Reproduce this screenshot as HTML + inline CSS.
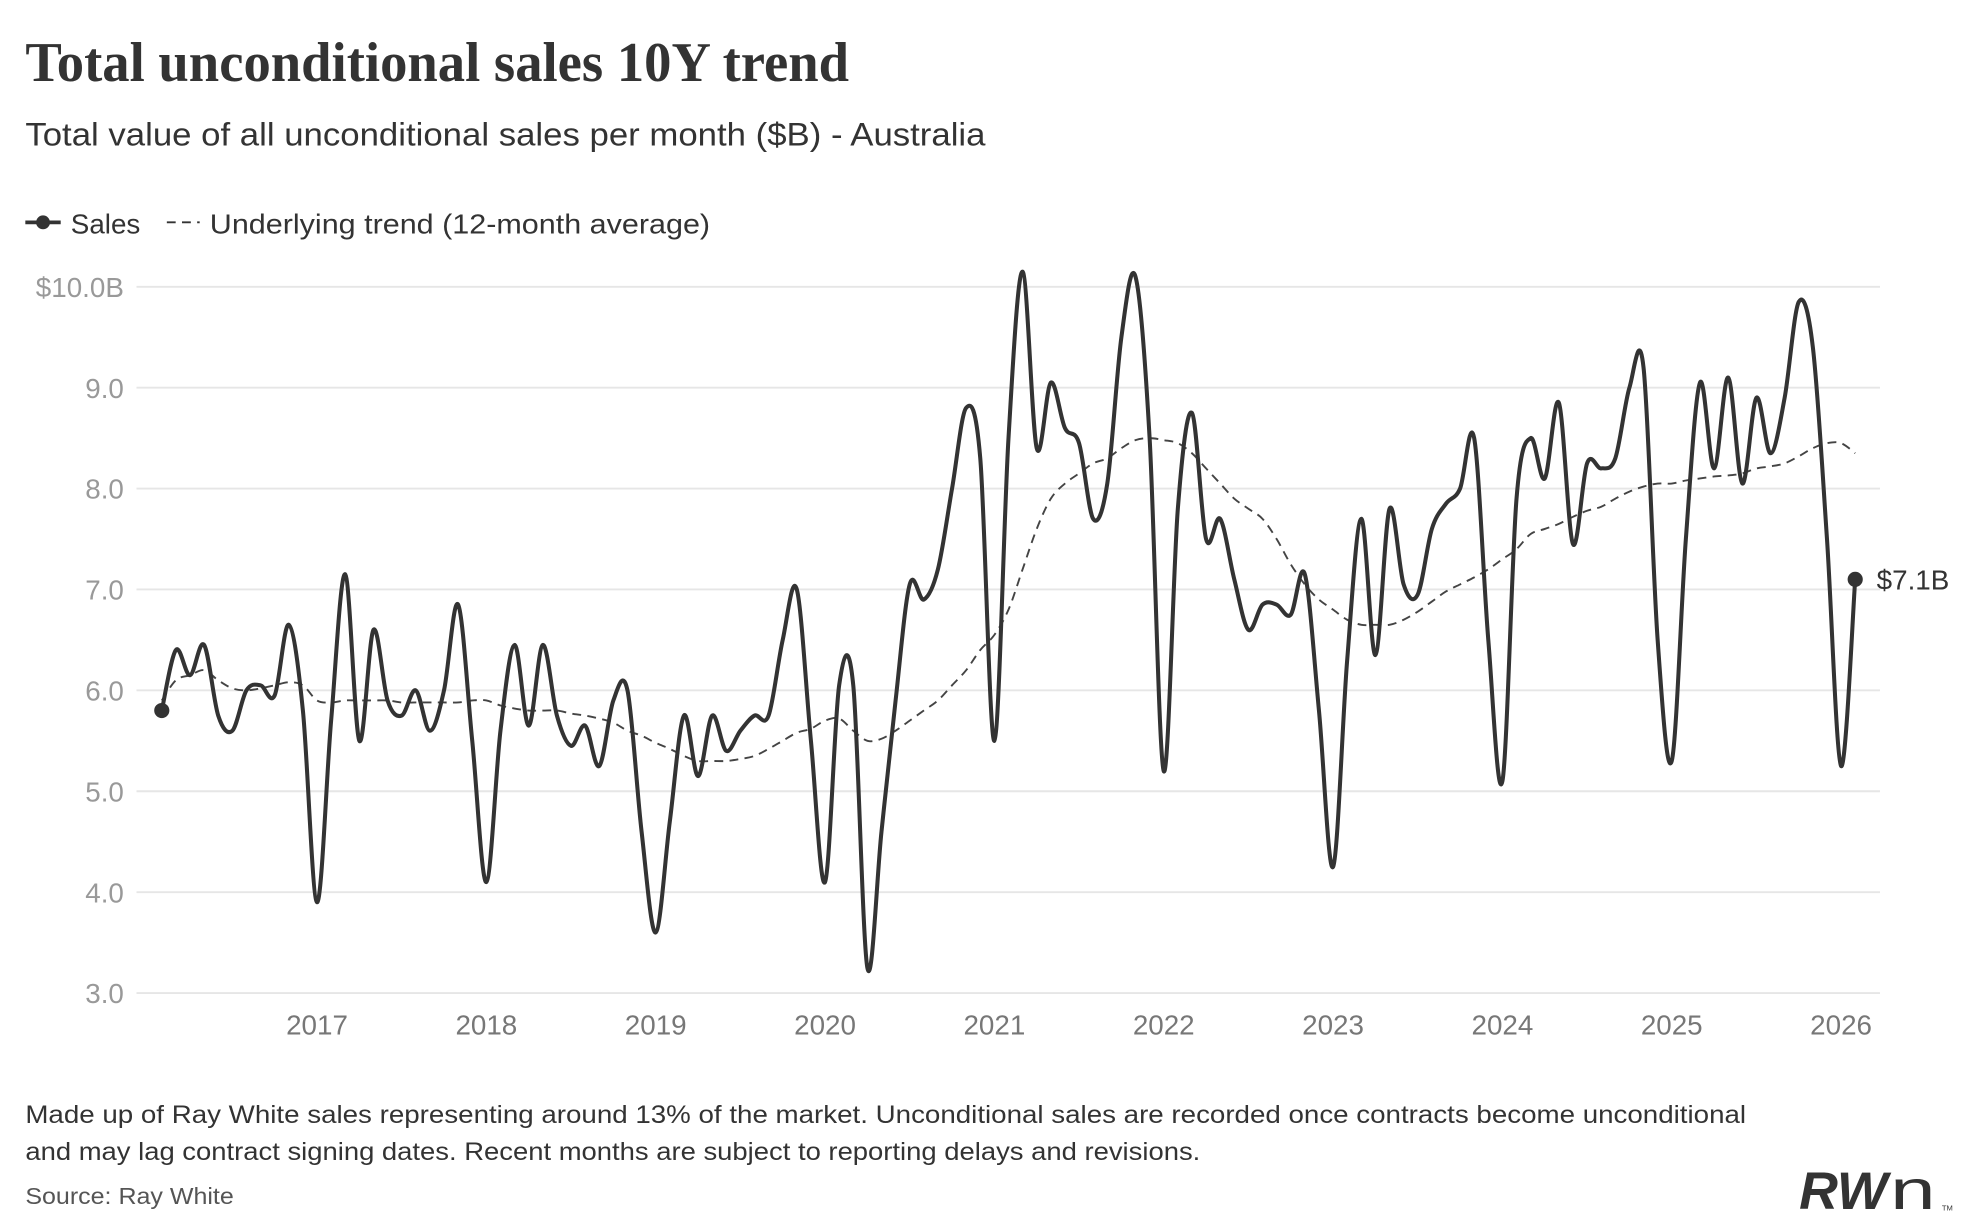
<!DOCTYPE html>
<html><head><meta charset="utf-8"><style>
html,body{margin:0;padding:0;background:#fff;}
svg{display:block;}
text{font-family:"Liberation Sans",sans-serif;}
</style></head><body>
<svg id="chart" width="1971" height="1228" viewBox="0 0 1560 972" xmlns="http://www.w3.org/2000/svg">
<text x="20" y="64" font-family="Liberation Serif, serif" font-weight="bold" font-size="44" fill="#333" textLength="652" lengthAdjust="spacingAndGlyphs" style="font-family:'Liberation Serif',serif">Total unconditional sales 10Y trend</text>
<text x="20" y="115" font-size="26" fill="#333" textLength="760" lengthAdjust="spacingAndGlyphs">Total value of all unconditional sales per month ($B) - Australia</text>
<g>
  <g>
    <line x1="20" y1="176" x2="48" y2="176" stroke="#333" stroke-width="3"/>
    <circle cx="34" cy="176" r="5.5" fill="#333"/>
    <text x="56" y="185" font-size="22" fill="#333">Sales</text>
  </g>
  <g>
    <line x1="132" y1="176" x2="158" y2="176" stroke="#333" stroke-width="1.5" stroke-dasharray="7,5"/>
    <text x="166" y="185" font-size="22" fill="#333" textLength="396" lengthAdjust="spacingAndGlyphs">Underlying trend (12-month average)</text>
  </g>
</g>
<g id="grid"></g>
<g id="yaxis"></g>
<g id="xaxis"></g>
<g id="series"></g>
<text x="20" y="889" font-size="20" fill="#333" textLength="1362" lengthAdjust="spacingAndGlyphs">Made up of Ray White sales representing around 13% of the market. Unconditional sales are recorded once contracts become unconditional</text>
<text x="20" y="918" font-size="20" fill="#333" textLength="930" lengthAdjust="spacingAndGlyphs">and may lag contract signing dates. Recent months are subject to reporting delays and revisions.</text>
<text x="20" y="953" font-size="18" fill="#555" textLength="165" lengthAdjust="spacingAndGlyphs">Source: Ray White</text>
<g>
  <text x="1424" y="957" font-size="42" font-weight="bold" font-style="italic" fill="#333" textLength="70" lengthAdjust="spacingAndGlyphs">RW</text>
  <text x="1496" y="957" font-size="44" fill="#333" textLength="36" lengthAdjust="spacingAndGlyphs">n</text>
  <text x="1537" y="958" font-size="6" fill="#333">TM</text>
</g>
</svg>
<script>
const yTicks = [3,4,5,6,7,8,9,10];
const yTickLabels = ["3.0","4.0","5.0","6.0","7.0","8.0","9.0","$10.0B"];
const xYears = [2017,2018,2019,2020,2021,2022,2023,2024,2025,2026];
const salesValues = [5.8,6.4,6.15,6.45,5.75,5.6,6.0,6.05,5.95,6.65,5.8,3.9,
5.7,7.15,5.5,6.6,5.9,5.75,6.0,5.6,6.0,6.85,5.5,4.1,
5.6,6.45,5.65,6.45,5.75,5.45,5.65,5.25,5.9,6.0,4.6,3.6,
4.7,5.75,5.15,5.75,5.4,5.6,5.75,5.75,6.5,7.0,5.5,4.1,
6.05,6.05,3.25,4.6,5.9,7.05,6.9,7.2,8.0,8.8,8.3,5.5,
8.5,10.15,8.4,9.05,8.6,8.45,7.7,8.05,9.5,10.1,8.5,5.2,
7.8,8.75,7.5,7.7,7.1,6.6,6.85,6.85,6.75,7.15,5.8,4.25,
6.3,7.7,6.35,7.8,7.05,6.95,7.6,7.85,8.0,8.5,6.5,5.1,
7.9,8.5,8.1,8.85,7.45,8.25,8.2,8.3,9.0,9.2,6.5,5.3,
7.5,9.05,8.2,9.1,8.05,8.9,8.35,8.9,9.85,9.4,7.5,5.25,
7.1];
const trendValues = [5.9,6.1,6.15,6.2,6.1,6.02,6.0,6.02,6.05,6.08,6.05,5.9,
5.88,5.9,5.9,5.9,5.9,5.88,5.88,5.88,5.88,5.88,5.9,5.9,
5.85,5.82,5.8,5.8,5.8,5.77,5.75,5.72,5.68,5.6,5.55,5.48,
5.42,5.35,5.3,5.3,5.3,5.32,5.35,5.42,5.5,5.58,5.62,5.7,
5.72,5.6,5.5,5.52,5.6,5.7,5.8,5.9,6.05,6.2,6.4,6.55,
6.8,7.2,7.6,7.9,8.05,8.15,8.25,8.3,8.4,8.48,8.5,8.48,
8.45,8.35,8.2,8.05,7.9,7.8,7.7,7.5,7.25,7.05,6.9,6.8,
6.7,6.65,6.65,6.65,6.7,6.78,6.88,6.98,7.05,7.12,7.2,7.3,
7.4,7.55,7.6,7.65,7.72,7.78,7.82,7.9,7.97,8.02,8.05,8.05,
8.08,8.1,8.12,8.13,8.15,8.2,8.22,8.25,8.32,8.4,8.45,8.45,
8.35];
const lastLabel = "$7.1B";

const NS = "http://www.w3.org/2000/svg";
const X0 = 128, DX = 11.17, FIRST_JAN = 11;
function xPos(i){ return X0 + i*DX; }
function yPos(v){ return 227 + (10 - v)*79.86; }
function mk(tag, attrs, parent){ const e=document.createElementNS(NS,tag); for(const k in attrs) e.setAttribute(k,attrs[k]); parent.appendChild(e); return e; }
function smooth(vals){
  const p = vals.map((v,i)=>[xPos(i),yPos(v)]);
  let d = "M"+p[0][0]+","+p[0][1];
  for(let i=0;i<p.length-1;i++){
    const p0=p[Math.max(0,i-1)], p1=p[i], p2=p[i+1], p3=p[Math.min(p.length-1,i+2)];
    const c1=[p1[0]+(p2[0]-p0[0])/6, p1[1]+(p2[1]-p0[1])/6];
    const c2=[p2[0]-(p3[0]-p1[0])/6, p2[1]-(p3[1]-p1[1])/6];
    d += " C"+c1[0].toFixed(2)+","+c1[1].toFixed(2)+" "+c2[0].toFixed(2)+","+c2[1].toFixed(2)+" "+p2[0].toFixed(2)+","+p2[1].toFixed(2);
  }
  return d;
}
const grid=document.getElementById('grid'), yaxis=document.getElementById('yaxis'), xaxis=document.getElementById('xaxis'), series=document.getElementById('series');
yTicks.forEach((t,k)=>{
  const g = mk('line',{x1:108,x2:1488,y1:yPos(t),y2:yPos(t),stroke:'#e6e6e6','stroke-width':1.5},grid);
  
  
  const lb = mk('text',{x:98,y:yPos(t)+8,'text-anchor':'end','font-size':22,fill:'#999'},yaxis);
  lb.textContent = yTickLabels[k];
  
  
});
xYears.forEach((yr,k)=>{
  const lb = mk('text',{x:xPos(FIRST_JAN+12*k),y:819,'text-anchor':'middle','font-size':22,fill:'#777'},xaxis);
  lb.textContent = yr;
  
  
});
const tr = mk('path',{d:smooth(trendValues),fill:'none',stroke:'#444','stroke-width':1.5,'stroke-dasharray':'7,5'},series);


const sl = mk('path',{d:smooth(salesValues),fill:'none',stroke:'#333','stroke-width':3.2,'stroke-linejoin':'round'},series);


const n = salesValues.length-1;
const d0 = mk('circle',{cx:xPos(0),cy:yPos(salesValues[0]),r:6,fill:'#333'},series);


const d1 = mk('circle',{cx:xPos(n),cy:yPos(salesValues[n]),r:6,fill:'#333'},series);


const el = mk('text',{x:xPos(n)+17,y:yPos(salesValues[n])+8,'font-size':22,fill:'#333'},series);
el.textContent = lastLabel;


</script>
</body></html>
